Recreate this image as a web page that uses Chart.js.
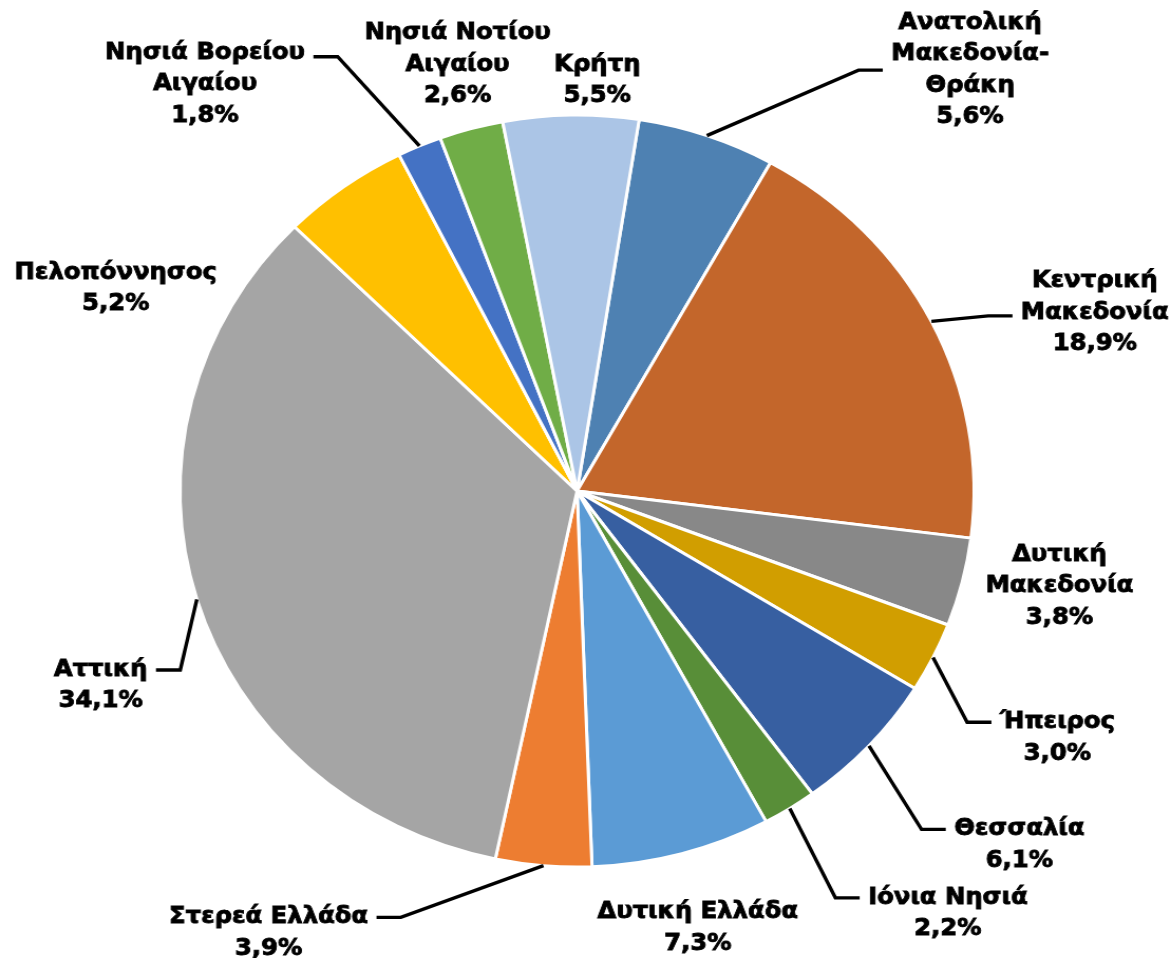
<!DOCTYPE html>
<html>
<head>
<meta charset="utf-8">
<title>Περιφέρειες</title>
<script src="https://cdn.jsdelivr.net/npm/chart.js"></script>
<style>
    html, body { margin: 0; padding: 0; background: #fff; overflow: hidden; }
    /* the original picture is a little wider than tall, so the whole canvas is stretched sideways */
    #wrap { width: 1110px; height: 958px; transform: scaleX(1.0559); transform-origin: 0 0; }
</style>
</head>
<body>
<div id="wrap"><canvas id="regionChart" width="1110" height="958"></canvas></div>

<script>
    // regions (label lines) and their share in %
    const regions = [
        ['Ανατολική', 'Μακεδονία-', 'Θράκη'],
        ['Κεντρική', 'Μακεδονία'],
        ['Δυτική', 'Μακεδονία'],
        ['Ήπειρος'],
        ['Θεσσαλία'],
        ['Ιόνια Νησιά'],
        ['Δυτική Ελλάδα'],
        ['Στερεά Ελλάδα'],
        ['Αττική'],
        ['Πελοπόννησος'],
        ['Νησιά Βορείου', 'Αιγαίου'],
        ['Νησιά Νοτίου', 'Αιγαίου'],
        ['Κρήτη']
    ];
    const shares = [5.6, 18.9, 3.8, 3.0, 6.1, 2.2, 7.3, 3.9, 34.1, 5.2, 1.8, 2.6, 5.5];

    const sliceColors = [
        '#4E81B2', '#C3662B', '#888888', '#D19E00', '#375FA1', '#588E38', '#5B9BD5',
        '#ED7D31', '#A5A5A5', '#FFC000', '#4472C4', '#70AD47', '#ABC5E6'
    ];

    // where each label sits, as a fraction of the pie radius from the centre (x, first line y)
    const labelSpots = [
        [0.990, -1.245], [1.304, -0.558], [1.215, 0.170], [1.210, 0.615], [1.114, 0.900],
        [0.934, 1.082], [0.304, 1.121], [-0.777, 1.134], [-1.200, 0.476], [-1.162, -0.581],
        [-0.937, -1.165], [-0.301, -1.218], [0.051, -1.133]
    ];
    // which text line the leader line hooks onto (null = no leader line)
    const hookLine = [1.5, 1.1, null, 0, 0, 0, null, 0, 0, null, 0.12, null, null];

    const LINE_H = 31.5;

    function pct(v) {
        return v.toFixed(1).replace('.', ',') + '%';
    }

    const outsideLabels = {
        id: 'outsideLabels',
        afterDatasetsDraw(chart) {
            const ctx = chart.ctx;
            const meta = chart.getDatasetMeta(0);
            ctx.save();
            ctx.font = 'bold 23px "DejaVu Sans"';
            ctx.fillStyle = '#000';
            ctx.strokeStyle = '#000';
            ctx.textAlign = 'center';
            ctx.textBaseline = 'middle';
            ctx.lineJoin = 'miter';
            meta.data.forEach((arc, i) => {
                const p = arc.getProps(['x', 'y', 'startAngle', 'endAngle', 'outerRadius'], true);
                const R = p.outerRadius;
                const lines = [].concat(chart.data.labels[i], pct(shares[i]));
                const cx = p.x + labelSpots[i][0] * R;
                const top = p.y + labelSpots[i][1] * R;
                ctx.lineWidth = 0.9;
                lines.forEach((t, k) => {
                    ctx.fillText(t, cx, top + k * LINE_H);
                    ctx.strokeText(t, cx, top + k * LINE_H);
                });

                if (hookLine[i] !== null) {
                    const mid = (p.startAngle + p.endAngle) / 2;
                    const ex = p.x + Math.cos(mid) * R;
                    const ey = p.y + Math.sin(mid) * R;
                    const w = Math.max(...lines.map(t => ctx.measureText(t).width));
                    const dir = cx < ex ? 1 : -1;
                    const hx = cx + dir * (w / 2 + 8);
                    const hy = top + hookLine[i] * LINE_H;
                    ctx.lineWidth = 3.4;
                    ctx.beginPath();
                    ctx.moveTo(hx, hy);
                    ctx.lineTo(hx + dir * 23, hy);
                    ctx.lineTo(ex, ey);
                    ctx.stroke();
                }
            });
            ctx.restore();
        }
    };

    const ctx = document.getElementById('regionChart').getContext('2d');
    const regionChart = new Chart(ctx, {
        type: 'pie',
        data: {
            labels: regions,
            datasets: [{
                data: shares,
                backgroundColor: sliceColors,
                borderColor: '#ffffff',
                borderWidth: 3
            }]
        },
        options: {
            responsive: false,
            animation: false,
            rotation: 9,
            radius: 376,
            layout: { padding: { left: 0, right: 17, top: 24, bottom: 0 } },
            plugins: {
                legend: { display: false },
                tooltip: { enabled: false }
            }
        },
        plugins: [outsideLabels]
    });
</script>
</body>
</html>
